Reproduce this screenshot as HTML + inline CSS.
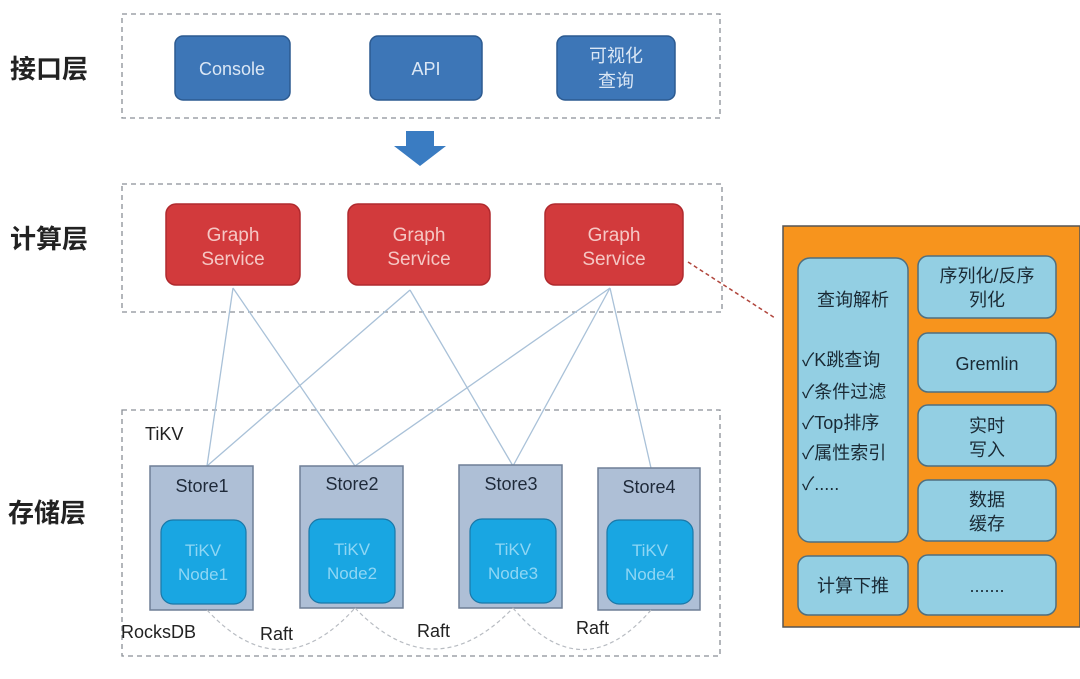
<!DOCTYPE html>
<html><head><meta charset="utf-8"><style>
html,body{margin:0;padding:0;background:#fff;}
svg{display:block;}
text{font-family:"Liberation Sans","Noto Sans CJK SC",sans-serif;}
</style></head><body>
<svg width="1080" height="679" viewBox="0 0 1080 679" xmlns="http://www.w3.org/2000/svg">
<rect width="1080" height="679" fill="#fff"/>
<!-- layer labels -->
<g font-size="26" fill="#222" font-weight="bold">
<text x="10" y="78">接口层</text>
<text x="10" y="248">计算层</text>
<text x="8" y="522">存储层</text>
</g>
<!-- dashed containers -->
<g fill="none" stroke="#8a8f96" stroke-width="1.3" stroke-dasharray="5,4">
<rect x="122" y="14" width="598" height="104"/>
<rect x="122" y="184" width="600" height="128"/>
<rect x="122" y="410" width="598" height="246"/>
</g>
<!-- interface buttons -->
<g fill="#3d76b7" stroke="#2c5a90" stroke-width="1.5">
<rect x="175" y="36" width="115" height="64" rx="8"/>
<rect x="370" y="36" width="112" height="64" rx="8"/>
<rect x="557" y="36" width="118" height="64" rx="8"/>
</g>
<g fill="#dbe7f5" font-size="18" text-anchor="middle">
<text x="232" y="75">Console</text>
<text x="426" y="75">API</text>
<text x="616" y="62">可视化</text>
<text x="616" y="87">查询</text>
</g>
<!-- arrow -->
<polygon points="406,131 434,131 434,146 446,146 420,166 394,146 406,146" fill="#3a7cc2"/>
<!-- connection lines -->
<g stroke="#a9c1d8" stroke-width="1.3" fill="none">
<line x1="233" y1="288" x2="207" y2="466"/>
<line x1="233" y1="288" x2="355" y2="466"/>
<line x1="410" y1="290" x2="207" y2="466"/>
<line x1="410" y1="290" x2="513" y2="466"/>
<line x1="610" y1="288" x2="355" y2="466"/>
<line x1="610" y1="288" x2="513" y2="466"/>
<line x1="610" y1="288" x2="651" y2="468"/>
</g>
<!-- graph services -->
<g fill="#d23a3c" stroke="#b02a2e" stroke-width="1.5">
<rect x="166" y="204" width="134" height="81" rx="10"/>
<rect x="348" y="204" width="142" height="81" rx="10"/>
<rect x="545" y="204" width="138" height="81" rx="10"/>
</g>
<g fill="#f5c7c4" font-size="19" text-anchor="middle">
<text x="233" y="241">Graph</text><text x="233" y="265">Service</text>
<text x="419" y="241">Graph</text><text x="419" y="265">Service</text>
<text x="614" y="241">Graph</text><text x="614" y="265">Service</text>
</g>
<!-- red dashed connector -->
<line x1="688" y1="262" x2="775" y2="318" stroke="#b0453c" stroke-width="1.5" stroke-dasharray="4,3"/>
<!-- TiKV -->
<text x="145" y="440" font-size="18" fill="#222">TiKV</text>
<g fill="#aebfd6" stroke="#6f7f96" stroke-width="1.5">
<rect x="150" y="466" width="103" height="144"/>
<rect x="300" y="466" width="103" height="142"/>
<rect x="459" y="465" width="103" height="143"/>
<rect x="598" y="468" width="102" height="142"/>
</g>
<g font-size="18" fill="#1f2a3a" text-anchor="middle">
<text x="202" y="492">Store1</text>
<text x="352" y="490">Store2</text>
<text x="511" y="490">Store3</text>
<text x="649" y="493">Store4</text>
</g>
<g fill="#19a6e2" stroke="#1a78a8" stroke-width="1.2">
<rect x="161" y="520" width="85" height="84" rx="12"/>
<rect x="309" y="519" width="86" height="84" rx="12"/>
<rect x="470" y="519" width="86" height="84" rx="12"/>
<rect x="607" y="520" width="86" height="84" rx="12"/>
</g>
<g fill="#8fd6f4" font-size="17" text-anchor="middle">
<text x="203" y="556">TiKV</text><text x="203" y="580">Node1</text>
<text x="352" y="555">TiKV</text><text x="352" y="579">Node2</text>
<text x="513" y="555">TiKV</text><text x="513" y="579">Node3</text>
<text x="650" y="556">TiKV</text><text x="650" y="580">Node4</text>
</g>
<g fill="none" stroke="#b8bcc2" stroke-width="1.2" stroke-dasharray="4,3">
<path d="M207,610 Q281,690 355,608"/>
<path d="M355,608 Q434,690 513,608"/>
<path d="M513,608 Q582,690 651,610"/>
</g>
<g font-size="18" fill="#222">
<text x="121" y="638">RocksDB</text>
<text x="260" y="640">Raft</text>
<text x="417" y="637">Raft</text>
<text x="576" y="634">Raft</text>
</g>
<!-- right panel -->
<rect x="783" y="226" width="297" height="401" fill="#f7941d" stroke="#555" stroke-width="1.5"/>
<g fill="#93cfe3" stroke="#4f6f80" stroke-width="1.5">
<rect x="798" y="258" width="110" height="284" rx="12"/>
<rect x="798" y="556" width="110" height="59" rx="10"/>
<rect x="918" y="256" width="138" height="62" rx="10"/>
<rect x="918" y="333" width="138" height="59" rx="10"/>
<rect x="918" y="405" width="138" height="61" rx="10"/>
<rect x="918" y="480" width="138" height="61" rx="10"/>
<rect x="918" y="555" width="138" height="60" rx="10"/>
</g>
<g font-size="18" fill="#1a2a35">
<text x="853" y="306" text-anchor="middle">查询解析</text>
<text x="802" y="366">✓K跳查询</text>
<text x="802" y="398">✓条件过滤</text>
<text x="802" y="429">✓Top排序</text>
<text x="802" y="459">✓属性索引</text>
<text x="802" y="490">✓.....</text>
<text x="853" y="592" text-anchor="middle">计算下推</text>
<text x="987" y="282" text-anchor="middle">序列化/反序</text>
<text x="987" y="306" text-anchor="middle">列化</text>
<text x="987" y="370" text-anchor="middle">Gremlin</text>
<text x="987" y="432" text-anchor="middle">实时</text>
<text x="987" y="456" text-anchor="middle">写入</text>
<text x="987" y="506" text-anchor="middle">数据</text>
<text x="987" y="530" text-anchor="middle">缓存</text>
<text x="987" y="592" text-anchor="middle">.......</text>
</g>
</svg>
</body></html>
